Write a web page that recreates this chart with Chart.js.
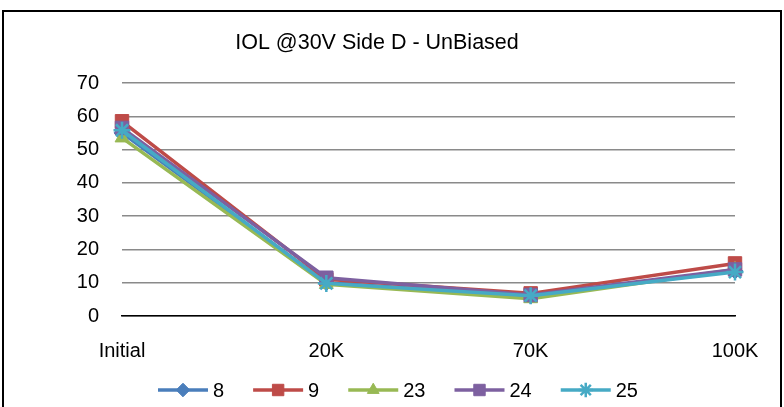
<!DOCTYPE html>
<html>
<head>
<meta charset="utf-8">
<script src="https://cdn.jsdelivr.net/npm/chart.js@4"></script>
<style>
  html, body { margin: 0; padding: 0; background: #fff; }
  #wrap { width: 784px; height: 407px; }
</style>
</head>
<body>
<div id="wrap"><canvas id="iol" width="784" height="407"></canvas></div>
<script>
const stages = ['Initial', '20K', '70K', '100K'];
const titleText = 'IOL @30V Side D - UnBiased';

const s8 = [55, 10, 6, 13.5];
const s9 = [58.5, 11, 6.8, 15.8];
const s23 = [53.5, 9.5, 5.2, 14];
const s24 = [56.5, 11.5, 6.3, 14];
const s25 = [55.8, 9.8, 6.1, 13.2];

const FONT = '"Liberation Sans", Arial, sans-serif';

function series(label, data, color, style, radius, order) {
  return {
    label: label,
    data: data,
    borderColor: color,
    backgroundColor: color,
    pointBackgroundColor: color,
    pointBorderColor: color,
    pointStyle: style,
    pointRadius: radius,
    pointBorderWidth: style === 'star' ? 2.5 : 1,
    borderWidth: 3.5,
    tension: 0,
    order: order
  };
}

// frame round the whole chart
const frame = {
  id: 'frame',
  beforeDraw(chart) {
    const ctx = chart.ctx;
    ctx.save();
    ctx.strokeStyle = '#000';
    ctx.lineWidth = 2;
    ctx.strokeRect(3, 11, 778, 420);
    ctx.restore();
  }
};

// title sits a bit left of centre, as Excel placed it
const titleDraw = {
  id: 'titleDraw',
  afterDraw(chart) {
    const ctx = chart.ctx;
    ctx.save();
    ctx.font = '21.5px ' + FONT;
    ctx.fillStyle = '#000';
    ctx.textAlign = 'center';
    ctx.textBaseline = 'middle';
    ctx.fillText(titleText, 377, 43);
    ctx.restore();
  }
};

// line + marker legend along the bottom
const lineLegend = {
  id: 'lineLegend',
  afterDraw(chart) {
    const ctx = chart.ctx;
    const y = 390;
    let x = 158;
    ctx.save();
    ctx.font = '20px ' + FONT;
    ctx.textBaseline = 'middle';
    chart.data.datasets.forEach(ds => {
      ctx.strokeStyle = ds.borderColor;
      ctx.lineWidth = 3.5;
      ctx.beginPath();
      ctx.moveTo(x, y);
      ctx.lineTo(x + 50, y);
      ctx.stroke();
      ctx.fillStyle = ds.pointBackgroundColor;
      ctx.strokeStyle = ds.pointBorderColor;
      ctx.lineWidth = ds.pointBorderWidth;
      Chart.helpers.drawPoint(ctx, {
        pointStyle: ds.pointStyle,
        radius: ds.pointRadius * 0.85,
        rotation: 0,
        borderWidth: ds.pointBorderWidth
      }, x + 25, y);
      ctx.fillStyle = '#000';
      ctx.fillText(ds.label, x + 55, y + 1);
      x += 55 + ctx.measureText(ds.label).width + 29;
    });
    ctx.restore();
  }
};

new Chart(document.getElementById('iol'), {
  type: 'line',
  data: {
    labels: stages,
    datasets: [
      series('8', s8, '#4A7EBB', 'rectRot', 8, 4),
      series('9', s9, '#BE4B48', 'rect', 9.5, 3),
      series('23', s23, '#98B954', 'triangle', 8, 2),
      series('24', s24, '#7D60A0', 'rect', 9.5, 1),
      series('25', s25, '#46AAC5', 'star', 8.5, 0)
    ]
  },
  options: {
    responsive: false,
    animation: false,
    layout: { padding: { left: 0, right: 49, top: 83, bottom: 41 } },
    plugins: {
      legend: { display: false },
      title: { display: false },
      tooltip: { enabled: false }
    },
    scales: {
      x: {
        offset: false,
        grid: { display: false, drawTicks: false },
        border: { display: true, color: '#000', width: 1.5 },
        ticks: { color: '#000', font: { family: FONT, size: 20 }, padding: 23, maxRotation: 0 },
        afterFit(scale) { scale.height = 50; }
      },
      y: {
        min: 0,
        max: 70,
        ticks: { stepSize: 10, color: '#000', font: { family: FONT, size: 20 }, padding: 23 },
        grid: { color: '#8a8a8a', lineWidth: 1.5, drawTicks: false },
        border: { display: false },
        afterFit(scale) { scale.width = 122; }
      }
    }
  },
  plugins: [frame, titleDraw, lineLegend]
});
</script>
</body>
</html>
